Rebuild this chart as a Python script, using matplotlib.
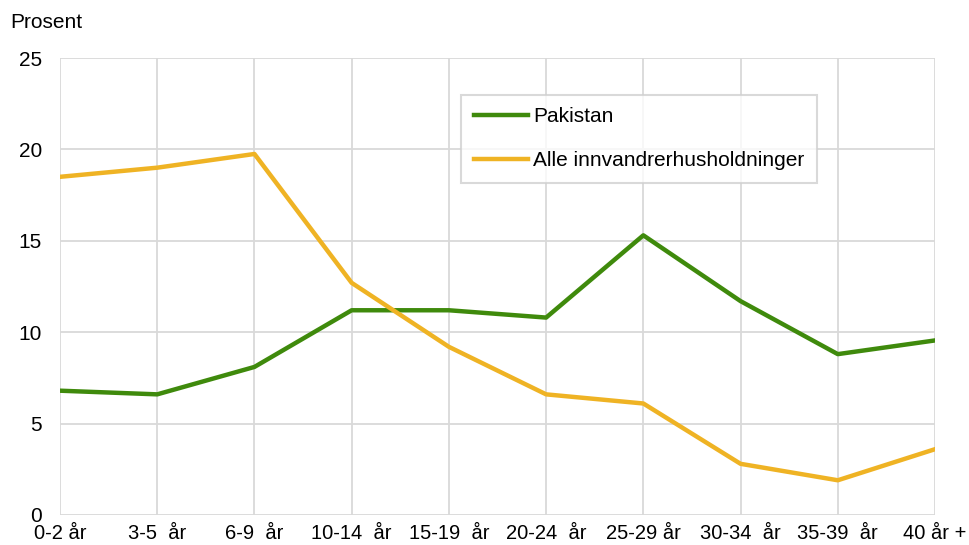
import matplotlib.pyplot as plt
import numpy as np

plt.rcParams['font.family'] = ['Liberation Sans', 'DejaVu Sans']

# Data
categories = ['0-2 år', '3-5  år', '6-9  år', '10-14  år', '15-19  år',
              '20-24  år', '25-29 år', '30-34  år', '35-39  år', '40 år +']
pakistan = [6.8, 6.6, 8.1, 11.2, 11.2, 10.8, 15.3, 11.7, 8.8, 9.55]
alle = [18.5, 19.0, 19.75, 12.7, 9.2, 6.6, 6.1, 2.8, 1.9, 3.6]
yticks = [0, 5, 10, 15, 20, 25]

fig = plt.figure(figsize=(9.69, 5.45), dpi=100)
ax = fig.add_axes([60 / 969, 1 - 515 / 545, 875 / 969, 457 / 545])

x = np.arange(len(categories))
ax.plot(x, pakistan, color='#3f8a0c', lw=3.2, label='Pakistan')
ax.plot(x, alle, color='#efb324', lw=3.2, label='Alle innvandrerhusholdninger')

ax.set_xlim(0, len(categories) - 1)
ax.set_ylim(0, 25)
ax.set_xticks(x)
ax.set_xticklabels(categories, fontsize=14.5)
ax.set_yticks(yticks)
ax.set_yticklabels([str(v) for v in yticks], fontsize=15)
ax.tick_params(length=0)
ax.tick_params(axis='x', pad=6.5)
ax.tick_params(axis='y', pad=13)
ax.grid(True, color='#d9d9d9', lw=1.3)
ax.set_axisbelow(True)
for s in ax.spines.values():
    s.set_visible(False)

fig.text(10 / 969, 1 - 22 / 545, 'Prosent', fontsize=15, va='center', ha='left')

leg = ax.legend(loc='upper left', bbox_to_anchor=((461 - 60) / 875, (515 - 95) / 457),
                fontsize=15, frameon=True, fancybox=False, edgecolor='#d0d0d0',
                handlelength=2.6, labelspacing=1.2, borderpad=0.6, handletextpad=0.25,
                borderaxespad=0)
leg.get_frame().set_linewidth(1.5)

fig.savefig('out.png', dpi=100)
